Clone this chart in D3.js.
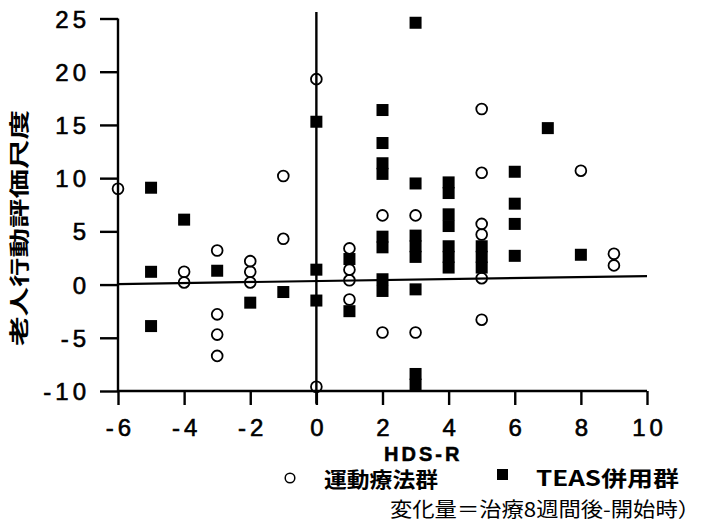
<!DOCTYPE html>
<html>
<head>
<meta charset="utf-8">
<script src="https://cdn.jsdelivr.net/npm/d3@7"></script>
<style>
  body { margin: 0; background: #fff; }
  text { font-family: "Liberation Sans", Arial, sans-serif; fill: #000; }
  .cjk { font-family: "Noto Sans CJK JP", sans-serif; }
</style>
</head>
<body>
<svg id="chart"></svg>
<script>
// HDS-R change vs. geriatric behavior scale change

const xTicks = [-6, -4, -2, 0, 2, 4, 6, 8, 10];
const yTicks = [-10, -5, 0, 5, 10, 15, 20, 25];

// 運動療法群 (open circles): [HDS-R change, scale change]
const exercise = [
  [-6, 9.0],
  [-4, 1.2], [-4, 0.2],
  [-3, 3.2], [-3, -2.8], [-3, -4.7], [-3, -6.7],
  [-2, 2.2], [-2, 1.2], [-2, 0.2],
  [-1, 10.2], [-1, 4.3],
  [0, 19.3], [0, -9.6],
  [1, 3.4], [1, 1.4], [1, 0.4], [1, -1.4],
  [2, 6.5], [2, -4.5],
  [3, 6.5], [3, -4.5],
  [5, 16.5], [5, 10.5], [5, 5.7], [5, 4.7], [5, 0.6], [5, -3.3],
  [8, 10.7],
  [9, 2.9], [9, 1.8]
];

// TEAS併用群 (filled squares)
const teas = [
  [-5, 9.1], [-5, 1.2], [-5, -3.9],
  [-4, 6.1],
  [-3, 1.3],
  [-2, -1.7],
  [-1, -0.7],
  [0, 15.3], [0, 1.4], [0, -1.5],
  [1, 2.4], [1, -2.5],
  [2, 16.4], [2, 13.3], [2, 11.4], [2, 10.4], [2, 4.5], [2, 3.5], [2, 0.5], [2, -0.6],
  [3, 24.6], [3, 9.5], [3, 4.6], [3, 3.6], [3, 2.6], [3, -0.45], [3, -8.4], [3, -9.4],
  [4, 9.6], [4, 8.6], [4, 6.6], [4, 5.5], [4, 3.6], [4, 2.6], [4, 1.6],
  [5, 3.6], [5, 2.6], [5, 1.6],
  [6, 10.6], [6, 7.6], [6, 5.7], [6, 2.7],
  [7, 14.7],
  [8, 2.8]
];

// regression line end points
const fit = [[-6, 0.05], [10, 0.8]];

const width = 704;
const height = 525;

const svg = d3.select('#chart')
  .attr('width', width)
  .attr('height', height);

const x = d3.scaleLinear().domain([-6, 10]).range([118, 647]);
const y = d3.scaleLinear().domain([-10, 25]).range([391, 18.5]);

// y axis
const yAxis = svg.append('g')
  .attr('transform', 'translate(' + x(-6) + ',0)')
  .call(d3.axisLeft(y).tickValues(yTicks).tickSize(18).tickPadding(10).tickFormat(d3.format('d')));

// x axis
const xAxis = svg.append('g')
  .attr('transform', 'translate(0,' + y(-10) + ')')
  .call(d3.axisBottom(x).tickValues(xTicks).tickSize(14).tickPadding(14).tickFormat(d3.format('d')));

[yAxis, xAxis].forEach(a => {
  a.select('.domain').attr('stroke', '#000').attr('stroke-width', 2.4);
  a.selectAll('.tick line').attr('stroke', '#000').attr('stroke-width', 2.4);
  a.selectAll('.tick text')
    .attr('fill', '#000')
    .attr('stroke', '#000')
    .attr('stroke-width', 0.6)
    .style('font-size', '24px')
    .style('letter-spacing', '4px')
    .text(d => d < 0 ? '-' + Math.abs(d) : String(d));
});
yAxis.select('.domain').attr('d', 'M0,' + y(25) + 'V' + y(-10));
yAxis.selectAll('.tick text').attr('dy', '0.36em');
xAxis.select('.domain').attr('d', 'M' + x(-6) + ',0H' + x(10));
xAxis.selectAll('.tick text').attr('dy', '0.72em').attr('dx', 2);

// vertical line at HDS-R = 0
svg.append('line')
  .attr('x1', x(0)).attr('x2', x(0))
  .attr('y1', y(25.6)).attr('y2', y(-11.2))
  .attr('stroke', '#000').attr('stroke-width', 2.4);

// regression line
svg.append('line')
  .attr('x1', x(fit[0][0])).attr('y1', y(fit[0][1]))
  .attr('x2', x(fit[1][0])).attr('y2', y(fit[1][1]))
  .attr('stroke', '#000').attr('stroke-width', 2.2);

// points
svg.append('g').selectAll('rect')
  .data(teas)
  .enter().append('rect')
    .attr('x', d => x(d[0]) - 6)
    .attr('y', d => y(d[1]) - 6)
    .attr('width', 12)
    .attr('height', 12)
    .attr('fill', '#000');

svg.append('g').selectAll('circle')
  .data(exercise)
  .enter().append('circle')
    .attr('cx', d => x(d[0]))
    .attr('cy', d => y(d[1]))
    .attr('r', 5.4)
    .attr('fill', 'none')
    .attr('stroke', '#000')
    .attr('stroke-width', 1.8);

// axis titles
svg.append('text')
  .attr('class', 'cjk')
  .attr('transform', 'translate(27,346) rotate(-90)')
  .attr('textLength', 236)
  .attr('lengthAdjust', 'spacingAndGlyphs')
  .style('font-size', '20px')
  .style('font-weight', 'bold')
  .text('老人行動評価尺度');

svg.append('text')
  .attr('x', 384).attr('y', 461)
  .attr('stroke', '#000').attr('stroke-width', 0.5)
  .style('font-size', '20px')
  .style('font-weight', 'bold')
  .style('letter-spacing', '3px')
  .text('HDS-R');

// legend
svg.append('circle')
  .attr('cx', 290).attr('cy', 478).attr('r', 4.8)
  .attr('fill', 'none').attr('stroke', '#000').attr('stroke-width', 1.5);
svg.append('text')
  .attr('class', 'cjk')
  .attr('x', 324).attr('y', 487)
  .attr('textLength', 114)
  .attr('lengthAdjust', 'spacingAndGlyphs')
  .style('font-size', '21px')
  .style('font-weight', 'bold')
  .text('運動療法群');

svg.append('rect')
  .attr('x', 497).attr('y', 469).attr('width', 11).attr('height', 11)
  .attr('fill', '#000');
svg.append('text')
  .attr('class', 'cjk')
  .attr('x', 536).attr('y', 486)
  .attr('textLength', 143)
  .attr('lengthAdjust', 'spacingAndGlyphs')
  .style('font-size', '21px')
  .style('font-weight', 'bold')
  .text('TEAS併用群');

svg.append('text')
  .attr('class', 'cjk')
  .attr('x', 390).attr('y', 517)
  .attr('textLength', 310)
  .attr('lengthAdjust', 'spacingAndGlyphs')
  .style('font-size', '20px')
  .text('変化量＝治療8週間後-開始時）');
</script>
</body>
</html>
